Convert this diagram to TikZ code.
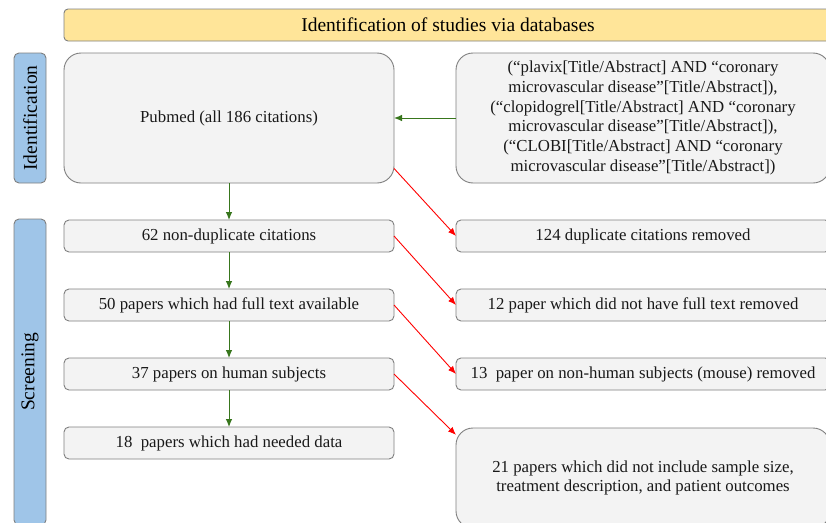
\documentclass[tikz,border=0pt]{standalone}
\usepackage{fontspec}
\setmainfont{Liberation Serif}
\usetikzlibrary{arrows.meta}
\definecolor{boxgray}{HTML}{7F7F7F}
\definecolor{boxfill}{HTML}{F3F3F3}
\definecolor{banfill}{HTML}{FFE599}
\definecolor{labfill}{HTML}{9FC5E8}
\definecolor{okgreen}{HTML}{38761D}
\definecolor{exred}{HTML}{FF0000}
\begin{document}
\begin{tikzpicture}[x=1pt,y=-1pt,
  every node/.style={inner sep=0pt, outer sep=0pt},
  boxtext/.style={font=\fontsize{16.8}{19.8}\selectfont, text=black!90, align=center},
  flowbox/.style={boxtext, draw=boxgray, fill=boxfill, line width=0.9pt, rounded corners=5pt},
  bigbox/.style={flowbox, rounded corners=17pt},
  phase/.style={draw=boxgray, fill=labfill, line width=0.9pt, rounded corners=5pt,
                font=\fontsize{19.5}{22}\selectfont, minimum width=32pt},
  okarrow/.style={draw=okgreen, line width=0.9pt, -{Latex[length=8pt,width=6.5pt]}},
  exarrow/.style={draw=exred, line width=0.9pt, -{Latex[length=8pt,width=6.5pt]}}
]
\useasboundingbox (0,0) rectangle (826,522);
\clip (0,0) rectangle (826,522);

% banner
\node[draw=boxgray, fill=banfill, line width=0.9pt, rounded corners=4pt,
      minimum width=768pt, minimum height=32pt, font=\fontsize{19.5}{22}\selectfont]
  (ban) at (448,25) {Identification of studies via databases};

% phase labels
\node[phase, minimum height=130pt] (lid) at (30,118) {\rotatebox{90}{Identification}};
\node[phase, minimum height=306pt] (lsc) at (30,372) {\rotatebox{90}{Screening}};

% left column
\node[bigbox, minimum width=330pt, minimum height=130pt] (pub) at (229,118) {Pubmed (all 186 citations)};
\node[flowbox, minimum width=330pt, minimum height=32pt] (n62) at (229,236) {62 non-duplicate citations};
\node[flowbox, minimum width=330pt, minimum height=32pt] (n50) at (229,305) {50 papers which had full text available};
\node[flowbox, minimum width=330pt, minimum height=32pt] (n37) at (229,374) {37 papers on human subjects};
\node[flowbox, minimum width=330pt, minimum height=32pt] (n18) at (229,443) {18\ \ papers which had needed data};

% right column
\node[bigbox, minimum width=374pt, minimum height=130pt] (qry) at (643,118)
  {(“plavix[Title/Abstract] AND “coronary\\ microvascular disease”[Title/Abstract]),\\
   (“clopidogrel[Title/Abstract] AND “coronary\\ microvascular disease”[Title/Abstract]),\\
   (“CLOBI[Title/Abstract] AND “coronary\\ microvascular disease”[Title/Abstract])};
\node[flowbox, minimum width=374pt, minimum height=32pt] (dup) at (643,236) {124 duplicate citations removed};
\node[flowbox, minimum width=374pt, minimum height=32pt] (nft) at (643,305) {12 paper which did not have full text removed};
\node[flowbox, minimum width=374pt, minimum height=32pt] (nhu) at (643,374) {13\ \ paper on non-human subjects (mouse) removed};
\node[bigbox, minimum width=374pt, minimum height=100pt] (ndt) at (643,478)
  {21 papers which did not include sample size,\\ treatment description, and patient outcomes};

% green arrows
\draw[okarrow] (qry.west) -- (pub.east);
\draw[okarrow] (pub.south) -- (n62.north);
\draw[okarrow] (n62.south) -- (n50.north);
\draw[okarrow] (n50.south) -- (n37.north);
\draw[okarrow] (n37.south) -- (n18.north);

% red arrows
\draw[exarrow] (pub.-17) -- (dup.west);
\draw[exarrow] (n62.east) -- (nft.west);
\draw[exarrow] (n50.east) -- (nhu.west);
\draw[exarrow] (n37.east) -- (ndt.167);
\end{tikzpicture}
\end{document}
